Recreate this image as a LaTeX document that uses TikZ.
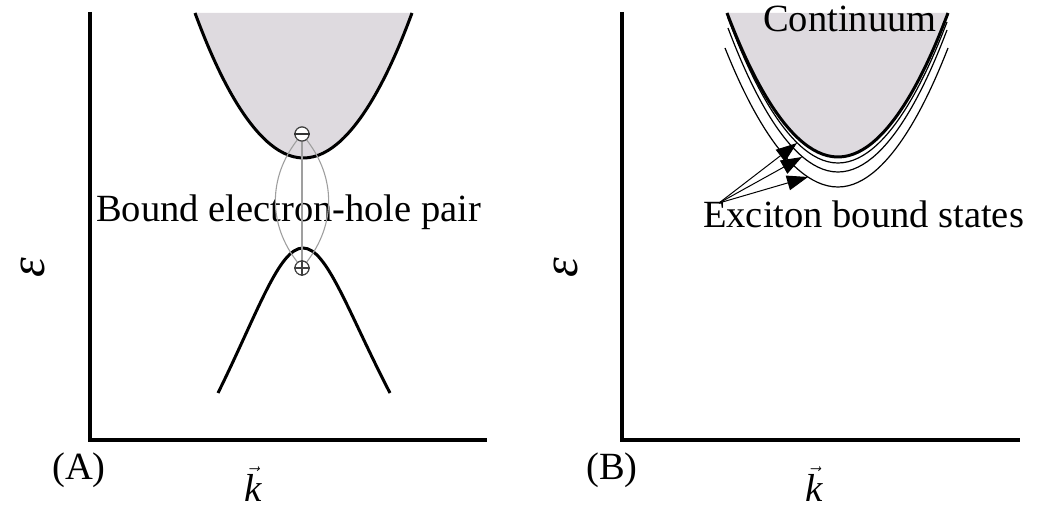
\documentclass[tikz,border=0pt]{standalone}
\usepackage{fontspec}
\setmainfont{Liberation Serif}
\usetikzlibrary{arrows.meta}
\definecolor{contfill}{RGB}{222,218,223}
\begin{document}
\begin{tikzpicture}[x=1pt,y=-1pt,
  axis/.style={line width=4pt, line join=miter},
  band/.style={line width=3pt},
  level/.style={line width=1.2pt},
  pairline/.style={draw=gray!75, line width=1.1pt},
  charge/.style={circle, draw=black!75, line width=1.1pt, minimum size=14pt, inner sep=0pt, fill=white},
  lbl/.style={font=\fontsize{38.5}{44}\selectfont, inner sep=0pt, anchor=base west},
  klbl/.style={font=\fontsize{39}{45}\selectfont, inner sep=0pt, anchor=base},
  epslbl/.style={font=\fontsize{50}{56}\selectfont\itshape, inner sep=0pt, rotate=90},
  ptr/.style={line width=1pt, -{Triangle[length=21pt,width=15pt]}}]
\useasboundingbox (0,0) rectangle (1042,510);
% ---------- panel A ----------
\draw[axis] (90,12) -- (90,440) -- (487,440);
\fill[contfill] (195,13) parabola bend (303.5,158) (412,13) -- cycle;
\draw[band] (195,13) parabola bend (303.5,158) (412,13);
\draw[band] (218,393) .. controls (258,312) and (279,248) .. (303,248)
                     .. controls (327,248) and (348,312) .. (390,393);
\node[lbl] (pairlbl) at (96,222) {Bound electron-hole pair};
\node[charge] (e) at (302,134) {};
\node[charge] (h) at (302,268) {};
\draw[pairline] (e) -- (h);
\draw[pairline] (e) to[bend right=38] (h);
\draw[pairline] (e) to[bend left=38] (h);
\node[charge] at (e) {};
\node[charge] at (h) {};
\draw[black!80, line width=1.6pt] (e.west) -- (e.east);
\draw[black!75, line width=1.1pt] (h.west) -- (h.east) (h.north) -- (h.south);
\node[lbl] (labA) at (52,480) {(A)};
\node[klbl] (kA) at (253,501) {$\vec{\mbox{\itshape k}}$};
\node[epslbl] (epsA) at (33,268) {ε};
% ---------- panel B ----------
\draw[axis] (622,12) -- (622,440) -- (1020,440);
\fill[contfill] (727,13) parabola bend (838,157) (948,13) -- cycle;
\draw[level] (725,48) parabola bend (838,187) (948,48);
\draw[level] (728,28) parabola bend (838,172) (947,30);
\draw[level] (728,18) parabola bend (838,163) (947,22);
\draw[band] (727,13) parabola bend (838,157) (948,13);
\node[lbl] (cont) at (763,32) {Continuum};
\node[lbl] (exc) at (703,228) {Exciton bound states};
\coordinate (src) at (719,203);
\coordinate (t1) at (797,143);
\coordinate (t2) at (802,157);
\coordinate (t3) at (808,177);
\draw[ptr] (src) -- (t1);
\draw[ptr] (src) -- (t2);
\draw[ptr] (src) -- (t3);
\node[lbl] (labB) at (586,480) {(B)};
\node[klbl] (kB) at (814,501) {$\vec{\mbox{\itshape k}}$};
\node[epslbl] (epsB) at (566,268) {ε};
\end{tikzpicture}
\end{document}
